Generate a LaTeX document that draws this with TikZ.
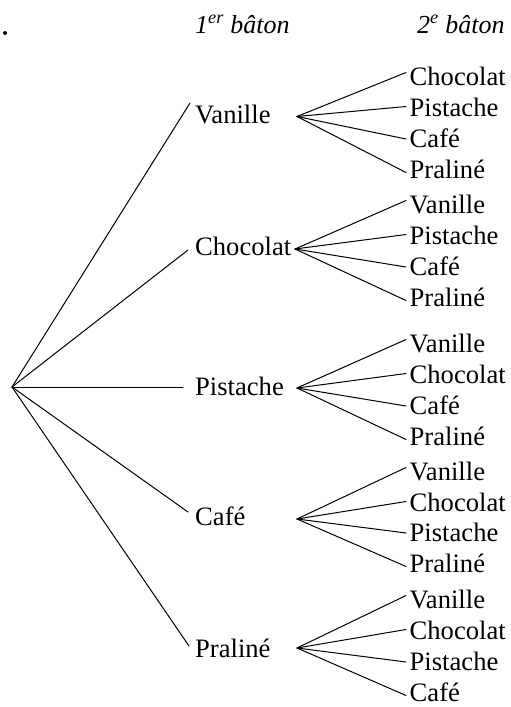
\documentclass[tikz,border=0pt]{standalone}
\usepackage{fontspec}
\setmainfont{Liberation Serif}
\begin{document}
\begin{tikzpicture}[x=1pt,y=-1pt,
  lbl/.style={anchor=base west,inner sep=0pt,font=\fontsize{26.6}{30}\selectfont},
  hdr/.style={anchor=base west,inner sep=0pt,font=\fontsize{26}{30}\selectfont\itshape},
  edge/.style={line width=1pt,line cap=round}]
\useasboundingbox (0,0) rectangle (511,707);
% header
\fill (5,33) circle (2pt) coordinate (dot);
\node[hdr] (h1) at (195,33) {1\textsuperscript{er} bâton};
\node[hdr] (h2) at (417,33) {2\textsuperscript{e} bâton};
% root
\coordinate (root) at (12,387);
% level 1
\node[lbl] (n1) at (195,123) {Vanille};
\node[lbl] (n2) at (195,255) {Chocolat};
\node[lbl] (n3) at (195,395) {Pistache};
\node[lbl] (n4) at (195,525) {Café};
\node[lbl] (n5) at (195,657) {Praliné};
\draw[edge] (root) -- ([xshift=-5pt,yshift=20pt]n1.base west);
\draw[edge] (root) -- ([xshift=-7pt,yshift=5pt]n2.base west);
\draw[edge] (root) -- ([xshift=-12pt,yshift=8pt]n3.base west);
\draw[edge] (root) -- ([xshift=-7pt,yshift=13pt]n4.base west);
\draw[edge] (root) -- ([xshift=-6pt,yshift=11pt]n5.base west);
% fan origins
\coordinate (f1) at (297,116.5);
\coordinate (f2) at (295,249);
\coordinate (f3) at (297,388);
\coordinate (f4) at (297,519);
\coordinate (f5) at (297,648);
% level 2
\node[lbl] (c11) at (409.5,85) {Chocolat};
\node[lbl] (c12) at (409.5,116) {Pistache};
\node[lbl] (c13) at (409.5,147) {Café};
\node[lbl] (c14) at (409.5,178) {Praliné};
\node[lbl] (c21) at (409.5,213) {Vanille};
\node[lbl] (c22) at (409.5,244) {Pistache};
\node[lbl] (c23) at (409.5,275) {Café};
\node[lbl] (c24) at (409.5,306) {Praliné};
\node[lbl] (c31) at (409.5,352) {Vanille};
\node[lbl] (c32) at (409.5,383) {Chocolat};
\node[lbl] (c33) at (409.5,414) {Café};
\node[lbl] (c34) at (409.5,445) {Praliné};
\node[lbl] (c41) at (409.5,480) {Vanille};
\node[lbl] (c42) at (409.5,511) {Chocolat};
\node[lbl] (c43) at (409.5,541) {Pistache};
\node[lbl] (c44) at (409.5,572) {Praliné};
\node[lbl] (c51) at (409.5,608) {Vanille};
\node[lbl] (c52) at (409.5,639) {Chocolat};
\node[lbl] (c53) at (409.5,670) {Pistache};
\node[lbl] (c54) at (409.5,701) {Café};
\foreach \g in {1,...,5}{
  \draw[edge] (f\g) -- ([xshift=-3.5pt,yshift=12.5pt]c\g1.base west);
  \draw[edge] (f\g) -- ([xshift=-3.5pt,yshift=9.5pt]c\g2.base west);
  \draw[edge] (f\g) -- ([xshift=-3.5pt,yshift=8pt]c\g3.base west);
  \draw[edge] (f\g) -- ([xshift=-3.5pt,yshift=5.5pt]c\g4.base west);
}
\end{tikzpicture}
\end{document}
